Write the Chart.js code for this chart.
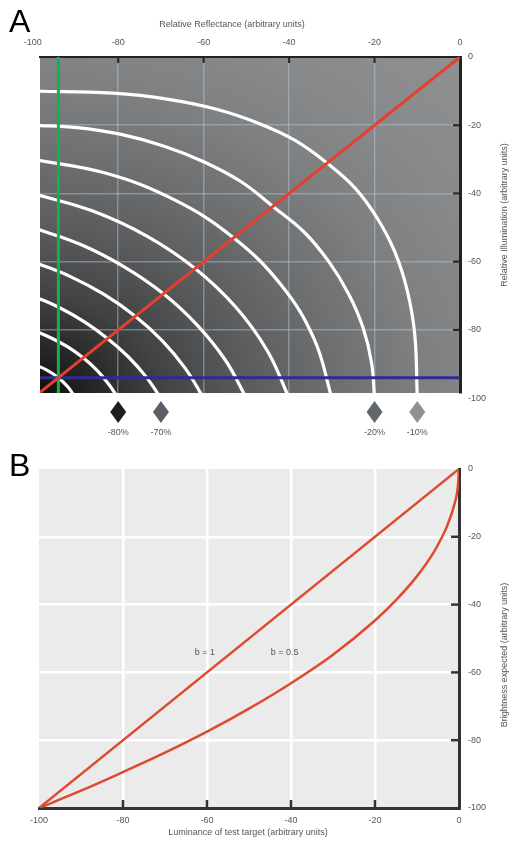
<!DOCTYPE html>
<html>
<head>
<meta charset="utf-8">
<script src="https://cdn.jsdelivr.net/npm/chart.js@4.4.1/dist/chart.umd.min.js"></script>
<style>
  html, body { margin: 0; padding: 0; background: #fff; }
  #wrapA { position: absolute; left: 0; top: 0; width: 513px; height: 450px; }
  #wrapB { position: absolute; left: 0; top: 450px; width: 513px; height: 391px; }
</style>
</head>
<body>
<div id="wrapA"><canvas id="chartA"></canvas></div>
<div id="wrapB"><canvas id="chartB"></canvas></div>
<script>
// tick values shared by both panels
const axisTicks = [-100, -80, -60, -40, -20, 0];

// Panel A - white iso-luminance contours, [reflectance, illumination]
const contour10 = [[-100, -10], [-81.2, -10.6], [-68.2, -12.4], [-57, -15.3], [-47.2, -19.4], [-38.5, -24.5], [-31.1, -31.1], [-24.5, -38.5], [-19.4, -47.2], [-15.3, -57], [-12.4, -68.2], [-10.6, -81.2], [-10, -100]];
const contour20 = [[-100, -20], [-89.6, -20.7], [-79.3, -22.7], [-69.4, -26.1], [-60, -30.7], [-51.3, -36.5], [-43.8, -43.8], [-36.5, -51.3], [-30.7, -60], [-26.1, -69.4], [-22.7, -79.3], [-20.7, -89.6], [-20, -100]];
const contour30 = [[-100, -30], [-82.8, -34.1], [-66.8, -41.9], [-53, -53], [-41.9, -66.8], [-34.1, -82.8], [-30, -100]];
const contour40 = [[-100, -40], [-86.1, -45.1], [-73.3, -52.5], [-62, -62], [-52.5, -73.3], [-45.1, -86.1], [-40, -100]];
const contour50 = [[-100, -50], [-88.9, -54.9], [-78.6, -61.5], [-69.4, -69.4], [-61.5, -78.6], [-54.9, -88.9], [-50, -100]];
const contour60 = [[-100, -60], [-91.3, -64.3], [-83.3, -69.6], [-76, -76], [-69.6, -83.3], [-64.3, -91.3], [-60, -100]];
const contour70 = [[-100, -70], [-93.7, -73.5], [-87.8, -77.7], [-82.5, -82.5], [-77.7, -87.8], [-73.5, -93.7], [-70, -100]];
const contour80 = [[-100, -80], [-95.8, -82.3], [-91.8, -85], [-88.2, -88.2], [-85, -91.8], [-82.3, -95.8], [-80, -100]];
const contour90 = [[-100, -90], [-96.8, -91.7], [-94, -94], [-91.7, -96.8], [-90, -100]];
const contours = [contour10, contour20, contour30, contour40, contour50, contour60, contour70, contour80, contour90];

const diagonalLine = [[-100, -100], [0, 0]];
const greenLine = [[-94, -100], [-94, 0]];
const blueLine = [[-100, -94], [0, -94]];

// diamonds under panel A
const markerX = [-80, -70, -20, -10];
const markerLabels = ["-80%", "-70%", "-20%", "-10%"];
const markerColors = ["#1e1e1e", "#5a6065", "#62676b", "#8e9296"];

// Panel B - expected brightness vs luminance
const lumB1 = [-100, 0];
const brightB1 = [-100, 0];
const lumB05 = [-100, -90, -80, -70, -60, -50, -40, -30, -20, -15, -10, -6, -3, -1, -0.25, 0];
const brightB05 = [-100, -94.9, -89.4, -83.7, -77.5, -70.7, -63.2, -54.8, -44.7, -38.7, -31.6, -24.5, -17.3, -10, -5, 0];

const FONT = '"Liberation Sans", Arial, Helvetica, sans-serif';
Chart.defaults.font.family = FONT;
Chart.defaults.font.size = 9;
Chart.defaults.color = "#555";

const toPts = (arr) => arr.map((p) => ({ x: p[0], y: p[1] }));
const zipPts = (xs, ys) => xs.map((v, i) => ({ x: v, y: ys[i] }));
const edgeHidden = (col) => (ctx) =>
    ctx.tick && (ctx.tick.value === 0 || ctx.tick.value === -100) ? "rgba(0,0,0,0)" : col;
const setTicks = (s) => { s.ticks = axisTicks.map((v) => ({ value: v })); };
const innerTicks = axisTicks.filter((v) => v !== 0 && v !== -100);

function drawText(ctx, text, x, y, size, color, rot, align) {
    ctx.save();
    ctx.font = size + "px " + FONT;
    ctx.fillStyle = color;
    ctx.textAlign = align || "center";
    ctx.textBaseline = "middle";
    ctx.translate(x, y);
    if (rot) ctx.rotate(rot);
    ctx.fillText(text, 0, 0);
    ctx.restore();
}

// Gráfico A
const panelA = {
    id: "panelA",
    beforeDraw(chart) {
        const { ctx, chartArea: a, scales: { x, y } } = chart;
        const cx = x.getPixelForValue(-100), cy = y.getPixelForValue(-100);
        const sx = (x.getPixelForValue(0) - cx) / 100;
        const sy = (cy - y.getPixelForValue(0)) / 100;
        ctx.save();
        ctx.beginPath();
        ctx.rect(a.left, a.top, a.width, a.height);
        ctx.clip();
        ctx.translate(cx, cy);
        ctx.scale(sx, sy);
        const g = ctx.createRadialGradient(0, 0, 0, 0, 0, 142);
        g.addColorStop(0, "#080808");
        g.addColorStop(0.07, "#1e1e1e");
        g.addColorStop(0.14, "#303030");
        g.addColorStop(0.21, "#414243");
        g.addColorStop(0.35, "#5a5b5d");
        g.addColorStop(0.5, "#6d6f71");
        g.addColorStop(0.64, "#7d7f81");
        g.addColorStop(0.8, "#87898b");
        g.addColorStop(1, "#8e9092");
        ctx.fillStyle = g;
        ctx.fillRect(-10, -160, 170, 170);
        ctx.restore();
    },
    afterDraw(chart) {
        const { ctx, chartArea: a, scales: { x, y } } = chart;
        ctx.save();
        ctx.strokeStyle = "#222";
        ctx.lineWidth = 2;
        innerTicks.forEach((v) => {
            const px = x.getPixelForValue(v);
            ctx.beginPath(); ctx.moveTo(px, a.top); ctx.lineTo(px, a.top + 6); ctx.stroke();
            const py = y.getPixelForValue(v);
            ctx.beginPath(); ctx.moveTo(a.right, py); ctx.lineTo(a.right - 7, py); ctx.stroke();
        });
        // diamonds
        markerX.forEach((v, i) => {
            const px = x.getPixelForValue(v), py = a.bottom + 19;
            ctx.fillStyle = markerColors[i];
            ctx.beginPath();
            ctx.moveTo(px, py - 11); ctx.lineTo(px + 8, py); ctx.lineTo(px, py + 11); ctx.lineTo(px - 8, py);
            ctx.closePath(); ctx.fill();
            drawText(ctx, markerLabels[i], px, a.bottom + 40, 9, "#555");
        });
        ctx.restore();
        drawText(ctx, "Relative Reflectance (arbitrary units)", 232, 25, 9, "#555");
        drawText(ctx, "Relative Illumination (arbitrary units)", 505, 215, 9, "#555", -Math.PI / 2);
        drawText(ctx, "A", 9, 23, 32, "#000", 0, "left");
    },
};

new Chart(document.getElementById("chartA"), {
    type: "scatter",
    data: {
        datasets: [
            { data: toPts(diagonalLine), borderColor: "#e5402b", borderWidth: 3 },
            { data: toPts(greenLine), borderColor: "#16b04b", borderWidth: 3 },
            { data: toPts(blueLine), borderColor: "#2c2d92", borderWidth: 3 },
        ].concat(contours.map((c) => ({ data: toPts(c), borderColor: "#ffffff", borderWidth: 3.2, tension: 0.4 }))),
    },
    options: {
        responsive: true,
        maintainAspectRatio: false,
        animation: false,
        showLine: true,
        elements: { point: { radius: 0 }, line: { capBezierPoints: false } },
        layout: { padding: { left: 40, top: 0, right: 0, bottom: 57 } },
        plugins: { legend: { display: false }, tooltip: { enabled: false } },
        scales: {
            x: {
                type: "linear", position: "top", min: -98.3, max: 0,
                afterBuildTicks: setTicks,
                afterFit: (s) => { s.height = 57; },
                grid: { color: edgeHidden("rgba(185,200,215,0.45)"), lineWidth: 1.5, drawTicks: false },
                border: { color: "#222", width: 2 },
                ticks: { padding: 9, autoSkip: false, maxRotation: 0 },
            },
            y: {
                type: "linear", position: "right", min: -98.5, max: 0,
                afterBuildTicks: setTicks,
                afterFit: (s) => { s.width = 53; },
                grid: { color: edgeHidden("rgba(185,200,215,0.45)"), lineWidth: 1.5, drawTicks: false },
                border: { color: "#222", width: 3 },
                ticks: { padding: 8, autoSkip: false },
            },
        },
    },
    plugins: [panelA],
});

// Gráfico B
const panelB = {
    id: "panelB",
    beforeDraw(chart) {
        const { ctx, chartArea: a } = chart;
        ctx.save();
        ctx.fillStyle = "#ebebeb";
        ctx.fillRect(a.left, a.top, a.width, a.height);
        ctx.restore();
    },
    afterDraw(chart) {
        const { ctx, chartArea: a, scales: { x, y } } = chart;
        ctx.save();
        ctx.strokeStyle = "#333";
        ctx.lineWidth = 2.5;
        innerTicks.forEach((v) => {
            const px = x.getPixelForValue(v);
            ctx.beginPath(); ctx.moveTo(px, a.bottom); ctx.lineTo(px, a.bottom - 8); ctx.stroke();
            const py = y.getPixelForValue(v);
            ctx.beginPath(); ctx.moveTo(a.right, py); ctx.lineTo(a.right - 8, py); ctx.stroke();
        });
        ctx.restore();
        drawText(ctx, "b = 1", x.getPixelForValue(-60.5), y.getPixelForValue(-54), 9, "#555");
        drawText(ctx, "b = 0.5", x.getPixelForValue(-41.5), y.getPixelForValue(-54), 9, "#555");
        drawText(ctx, "Luminance of test target (arbitrary units)", 248, 383, 9, "#555");
        drawText(ctx, "Brightness expected (arbitrary units)", 505, 205, 9, "#555", -Math.PI / 2);
        drawText(ctx, "B", 9, 17, 32, "#000", 0, "left");
    },
};

new Chart(document.getElementById("chartB"), {
    type: "scatter",
    data: {
        datasets: [
            { data: zipPts(lumB1, brightB1), borderColor: "#de4a2e", borderWidth: 2.5 },
            { data: zipPts(lumB05, brightB05), borderColor: "#de4a2e", borderWidth: 2.5, cubicInterpolationMode: "monotone" },
        ],
    },
    options: {
        responsive: true,
        maintainAspectRatio: false,
        animation: false,
        showLine: true,
        elements: { point: { radius: 0 } },
        layout: { padding: { left: 39, top: 19, right: 0, bottom: 0 } },
        plugins: { legend: { display: false }, tooltip: { enabled: false } },
        scales: {
            x: {
                type: "linear", position: "bottom", min: -100, max: 0,
                afterBuildTicks: setTicks,
                afterFit: (s) => { s.height = 33; },
                grid: { color: edgeHidden("#ffffff"), lineWidth: 2.5, drawTicks: false },
                border: { color: "#333", width: 3 },
                ticks: { padding: 7, autoSkip: false, maxRotation: 0 },
            },
            y: {
                type: "linear", position: "right", min: -100, max: 0,
                afterBuildTicks: setTicks,
                afterFit: (s) => { s.width = 54; },
                grid: { color: edgeHidden("#ffffff"), lineWidth: 2.5, drawTicks: false },
                border: { color: "#333", width: 3 },
                ticks: { padding: 9, autoSkip: false },
            },
        },
    },
    plugins: [panelB],
});
</script>
</body>
</html>
